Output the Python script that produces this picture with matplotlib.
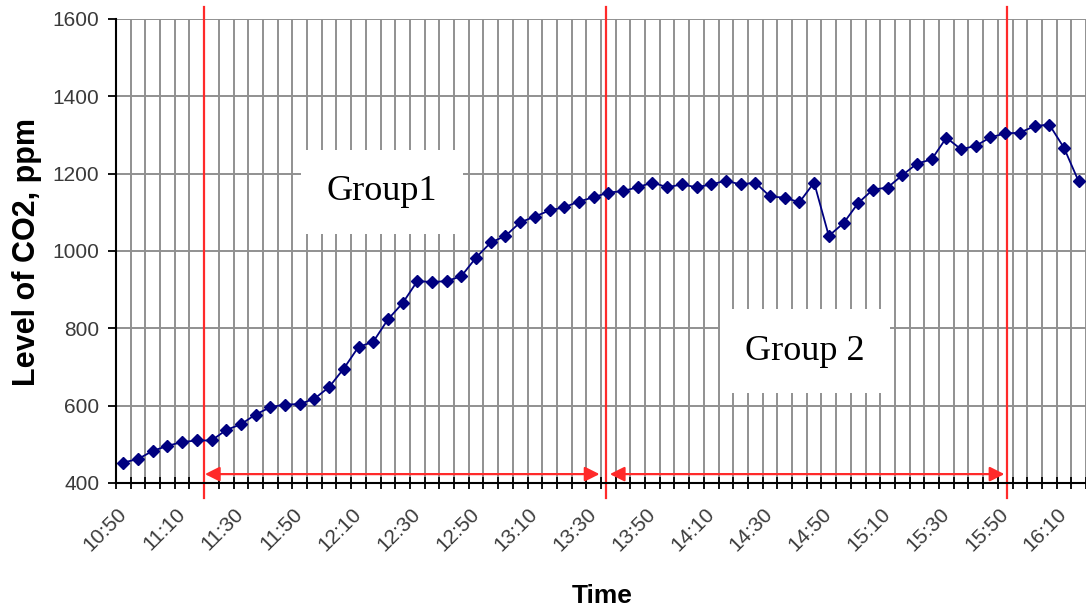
import numpy as np
import matplotlib
matplotlib.use('Agg')
import matplotlib.pyplot as plt

# CO2 readings, one every 5 minutes from 10:50
co2 = [453, 462, 483, 496, 506, 510, 510, 537, 552, 577, 596, 603, 604, 618, 648,
       696, 752, 765, 823, 865, 922, 920, 922, 935, 983, 1022,
       1039, 1074, 1089, 1105, 1113, 1128, 1139, 1151, 1155, 1165,
       1177, 1165, 1172, 1165, 1172, 1182, 1172, 1177, 1141, 1138,
       1126, 1177, 1039, 1072, 1124, 1159, 1164, 1196, 1226, 1237,
       1293, 1263, 1272, 1294, 1304, 1306, 1323, 1327, 1267, 1180]
tick_labels = ['10:50', '11:10', '11:30', '11:50', '12:10', '12:30', '12:50', '13:10',
               '13:30', '13:50', '14:10', '14:30', '14:50', '15:10', '15:30', '15:50', '16:10']
group_bounds = [5.48, 32.87, 60.1]
group_names = ['Group1', 'Group 2']

plt.rcParams['font.family'] = ['Liberation Sans', 'DejaVu Sans']

fig = plt.figure(figsize=[10.86, 6.12], dpi=100)
ax = fig.add_axes([116/1086, 129/612, 970/1086, 464/612])

x = np.arange(len(co2))
ax.plot(x, co2, color='#000080', lw=1.3, marker='D', markersize=6.5, zorder=4, clip_on=False)

# axes format
ax.set_xlim(-0.5, 65.4)
ax.set_ylim(400, 1600)
ax.set_xticks(np.arange(-0.5, 66, 1))
ax.set_xticklabels([])
ax.set_xticks(np.arange(0, 4*len(tick_labels), 4), minor=True)
ax.set_xticklabels(tick_labels, minor=True, rotation=45, ha='right', va='center',
                   rotation_mode='anchor', fontsize=15, color='#3a3a3a')
ax.tick_params(axis='x', which='major', direction='inout', length=8, width=1.3, color='k')
ax.tick_params(axis='x', which='minor', length=0, pad=20)
ax.set_yticks(np.arange(400, 1601, 200))
ax.tick_params(axis='y', direction='out', length=6, width=1.3, labelsize=15,
               labelcolor='#3a3a3a', pad=6)
ax.grid(True, which='major', color='#909090', lw=1.4, zorder=0)
ax.set_axisbelow(True)
for s in ['top', 'right']:
    ax.spines[s].set_visible(False)
for s in ['left', 'bottom']:
    ax.spines[s].set_linewidth(1.5)
    ax.spines[s].set_zorder(5)

# group boundaries and arrows
for b in group_bounds:
    ax.plot([b, b], [361, 1631], color='#ff2a2a', lw=1.6, clip_on=False, zorder=3)
ax.annotate('', xy=(5.55, 423), xytext=(32.4, 423),
            arrowprops=dict(arrowstyle='<|-|>', color='#ff2a2a', lw=1.6,
                            mutation_scale=22, shrinkA=0, shrinkB=0), zorder=3)
ax.annotate('', xy=(33.1, 423), xytext=(59.95, 423),
            arrowprops=dict(arrowstyle='<|-|>', color='#ff2a2a', lw=1.6,
                            mutation_scale=22, shrinkA=0, shrinkB=0), zorder=3)

box = dict(boxstyle='square,pad=0.7', facecolor='white', edgecolor='none')
ax.text(17.6, 1131, group_names[0], family='Liberation Serif', fontsize=26,
        ha='center', va='baseline', bbox=box, zorder=3)
ax.text(46.4, 719, group_names[1], family='Liberation Serif', fontsize=26,
        ha='center', va='baseline', bbox=box, zorder=3)

fig.text(27/1086, 1 - 252/612, 'Level of CO2, ppm', rotation=90, ha='center', va='center',
         fontsize=22, fontweight='bold')
fig.text(602/1086, 1 - 596/612, 'Time', ha='center', va='center',
         fontsize=19, fontweight='bold')

plt.savefig('out.png', dpi=100)
plt.close()
